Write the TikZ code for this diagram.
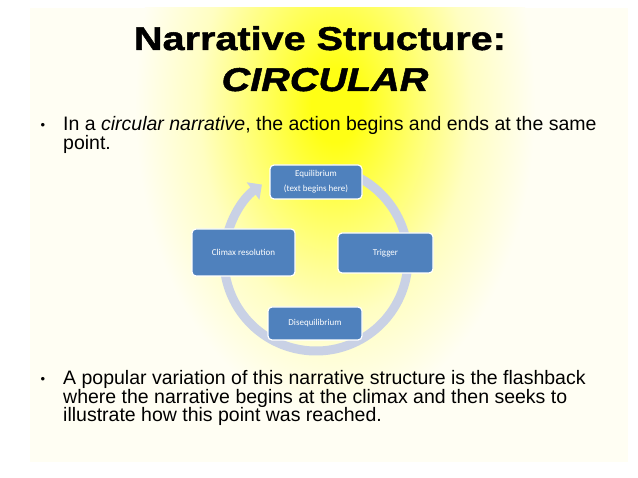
\documentclass[tikz,border=0pt]{standalone}
\usepackage{fontspec}
\setmainfont{Liberation Sans}
\newfontfamily\titlefont{Liberation Sans Bold}[FakeStretch=1.2,FakeBold=1.5]
\newfontfamily\titleitfont{Liberation Sans Bold Italic}[FakeStretch=1.2,FakeBold=1.5]
\newfontfamily\boxfont{Carlito}
\usepackage{tikz}
\usetikzlibrary{arrows.meta}
\usetikzlibrary{shapes.geometric}
\definecolor{cream}{HTML}{FFFEF3}
\definecolor{core}{HTML}{FFFF14}
\definecolor{boxblue}{HTML}{4F81BD}
\definecolor{ringgrey}{HTML}{C9D1E5}
\pgfdeclareradialshading{glow}{\pgfpoint{0bp}{0bp}}{color(0bp)=(core); color(3bp)=(core); color(10bp)=(core!60!cream); color(17bp)=(core!22!cream); color(25bp)=(cream); color(50bp)=(cream)}
\pgfdeclarelayer{bglayer}
\pgfdeclarelayer{edgelayer}
\pgfdeclarelayer{nodelayer}
\pgfsetlayers{bglayer,edgelayer,nodelayer,main}
\tikzstyle{none}=[inner sep=0pt]
\tikzstyle{title}=[inner sep=0pt, anchor=base]
\tikzstyle{bullet}=[inner sep=0pt, anchor=base, font=\fontsize{13}{13}\selectfont]
\tikzstyle{body}=[inner sep=0pt, anchor=base west, align=left, font=\fontsize{19.5}{18.3}\selectfont]
\tikzstyle{stage}=[rectangle, rounded corners=4pt, fill=boxblue, draw=white, line width=1.2pt, text=white, align=center, font=\boxfont\fontsize{9}{15}\selectfont]
\tikzstyle{ring}=[draw=ringgrey, line width=9pt, -{Triangle[width=21pt,length=11pt]}]

\begin{document}
\begin{tikzpicture}[x=1pt,y=1pt]
	\begin{pgfonlayer}{bglayer}
		\fill [white] (0, 0) rectangle (638, -478);
		\fill [cream] (30, -8) rectangle (628, -462);
		\begin{scope}
			\clip (30, -8) rectangle (628, -462);
			\shade [shading=glow] (335, -105) ellipse [x radius=200, y radius=310];
		\end{scope}
	\end{pgfonlayer}
	\begin{pgfonlayer}{nodelayer}
		\node [style=title, font=\titlefont\fontsize{33}{33}\selectfont] (0) at (320, -50) {Narrative Structure:};
		\node [style=title, font=\titleitfont\fontsize{33}{33}\selectfont] (1) at (325, -91) {CIRCULAR};
		\node [style=bullet] (2) at (43, -130) {•};
		% base of a multi-line node is its last line
		\node [style=body] (3) at (63, -149.3) {In a \textit{circular narrative}, the action begins and ends at the same\\point.};
		\node [style=bullet] (4) at (43, -384) {•};
		\node [style=body] (5) at (63, -421.6) {A popular variation of this narrative structure is the flashback\\where the narrative begins at the climax and then seeks to\\illustrate how this point was reached.};
		\node [style=stage, minimum width=92, minimum height=34] (6) at (316, -182) {Equilibrium\\(text begins here)};
		\node [style=stage, minimum width=95, minimum height=40] (7) at (385.5, -253) {Trigger};
		\node [style=stage, minimum width=94, minimum height=33] (8) at (315, -323.5) {Disequilibrium};
		\node [style=stage, minimum width=103, minimum height=47] (9) at (243.5, -252.5) {Climax resolution};
	\end{pgfonlayer}
	\begin{pgfonlayer}{edgelayer}
		\coordinate (10) at (316, -259);
		\draw [style=ring] ([shift={(80:92)}]10) arc [start angle=80, end angle=-234, radius=92];
	\end{pgfonlayer}
	\useasboundingbox (0, 0) rectangle (638, -478);
\end{tikzpicture}
\end{document}
